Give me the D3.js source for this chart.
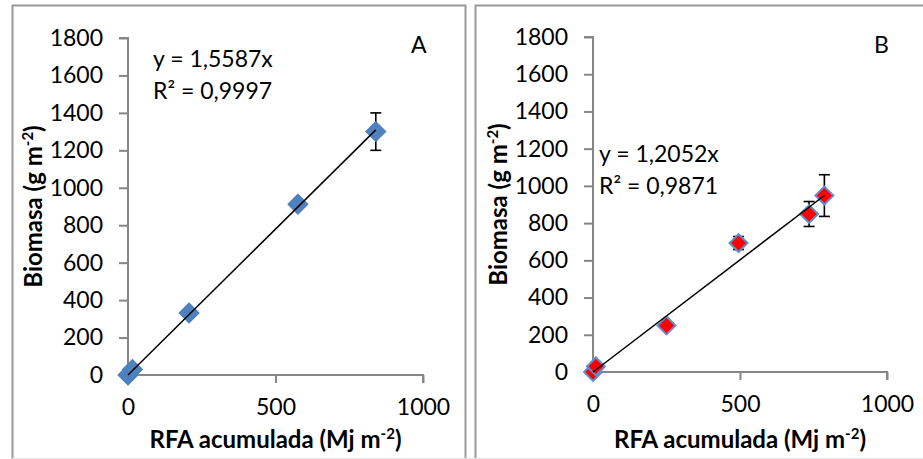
<!DOCTYPE html>
<html>
<head>
<meta charset="utf-8">
<script src="https://cdn.jsdelivr.net/npm/d3@7"></script>
<style>
  html, body { margin: 0; padding: 0; background: #fff; }
  svg { display: block; font-family: Lato, "Open Sans", sans-serif; }
</style>
</head>
<body>
<svg id="chart" width="923" height="459"></svg>
<script>
// Panel A: accumulated PAR vs biomass
const rfaA = [0, 15, 207, 576, 840];
const bioA = [0, 30, 331, 912, 1300];
const errA = [0, 0, 0, 0, 100];
const slopeA = 1.5587;
const r2A = 0.9997;

// Panel B
const rfaB = [0, 10, 250, 495, 735, 787];
const bioB = [0, 30, 250, 693, 849, 948];
const errB = [0, 0, 0, 35, 67, 112];
const slopeB = 1.2052;
const r2B = 0.9871;

const xTicks = [0, 500, 1000];
const yTicks = [0, 200, 400, 600, 800, 1000, 1200, 1400, 1600, 1800];

const svg = d3.select("#chart");
const axisGray = "#868686";
const fmt = (v, d) => v.toFixed(d).replace(".", ",");
const labelSize = "23px";
const titleSize = "24px";

// panel frames
svg.append("path")
  .attr("d", "M12.5,459 V5.5 H465.5 V459")
  .attr("fill", "none").attr("stroke", "#9a9a9a").attr("stroke-width", 2);
svg.append("path")
  .attr("d", "M475.5,459 V5.5 H923")
  .attr("fill", "none").attr("stroke", "#9a9a9a").attr("stroke-width", 2);
svg.append("line")
  .attr("x1", 12).attr("x2", 923).attr("y1", 458.5).attr("y2", 458.5)
  .attr("stroke", "#e4e4e4").attr("stroke-width", 1);

function panel(cfg) {
  const x = d3.scaleLinear().domain([0, 1000]).range(cfg.xr);
  const y = d3.scaleLinear().domain([0, 1800]).range(cfg.yr);
  const g = svg.append("g");

  // y axis
  const ya = g.append("g").attr("transform", `translate(${cfg.xr[0]},0)`)
    .call(d3.axisLeft(y).tickValues(yTicks).tickSize(9).tickPadding(16).tickFormat(d3.format("d")));
  // x axis
  const xa = g.append("g").attr("transform", `translate(0,${cfg.yr[0]})`)
    .call(d3.axisBottom(x).tickValues(xTicks).tickSize(8).tickPadding(16).tickFormat(d3.format("d")));
  [ya, xa].forEach(a => {
    a.select(".domain").attr("stroke", axisGray).attr("stroke-width", 2);
    a.selectAll(".tick line").attr("stroke", axisGray).attr("stroke-width", 2);
    a.selectAll(".tick text").attr("fill", "#000").style("font-size", labelSize).style("font-family", "Lato, sans-serif");
  });
  ya.select(".domain").attr("d", `M-9,${cfg.yr[1]}H0V${cfg.yr[0]}`);
  xa.select(".domain").attr("d", `M${cfg.xr[0]},0H${cfg.xr[1]}V8`);

  const pts = cfg.xs.map((v, i) => ({ x: v, y: cfg.ys[i], e: cfg.es[i] }));

  // error bars (behind the markers)
  const eb = g.selectAll("g.eb").data(pts.filter(d => d.e > 0)).join("g").attr("class", "eb")
    .attr("stroke", "#000").attr("stroke-width", 1.6);
  eb.append("line").attr("x1", d => x(d.x)).attr("x2", d => x(d.x))
    .attr("y1", d => y(d.y - d.e)).attr("y2", d => y(d.y + d.e));
  eb.append("line").attr("x1", d => x(d.x) - 5.5).attr("x2", d => x(d.x) + 5.5)
    .attr("y1", d => y(d.y + d.e)).attr("y2", d => y(d.y + d.e));
  eb.append("line").attr("x1", d => x(d.x) - 5.5).attr("x2", d => x(d.x) + 5.5)
    .attr("y1", d => y(d.y - d.e)).attr("y2", d => y(d.y - d.e));

  // markers
  const sym = d3.symbol(d3.symbolSquare, cfg.msize);
  g.selectAll("path.pt").data(pts).join("path")
    .attr("class", "pt")
    .attr("d", sym)
    .attr("transform", d => `translate(${x(d.x)},${y(d.y)}) rotate(45)`)
    .attr("fill", cfg.fill)
    .attr("stroke", cfg.stroke)
    .attr("stroke-width", cfg.sw);

  // linear trend through the origin
  const xmax = d3.max(cfg.xs);
  g.append("line")
    .attr("x1", x(0)).attr("y1", y(0))
    .attr("x2", x(xmax)).attr("y2", y(cfg.slope * xmax))
    .attr("stroke", "#000").attr("stroke-width", 1.5);

  // equation labels
  const eq = g.append("text").attr("x", cfg.eqPos[0]).attr("y", cfg.eqPos[1])
    .style("font-size", labelSize).attr("fill", "#000");
  eq.append("tspan").attr("x", cfg.eqPos[0]).text(`y = ${fmt(cfg.slope, 4)}x`);
  eq.append("tspan").attr("x", cfg.eqPos[0]).attr("dy", 32).text(`R² = ${fmt(cfg.r2, 4)}`);

  // panel letter
  g.append("text").attr("x", cfg.letterPos[0]).attr("y", cfg.letterPos[1])
    .style("font-size", labelSize).attr("fill", "#000").text(cfg.letter);

  // axis titles
  const xt = g.append("text")
    .attr("x", (cfg.xr[0] + cfg.xr[1]) / 2).attr("y", 448)
    .attr("text-anchor", "middle").style("font-size", titleSize).style("font-weight", "bold");
  xt.append("tspan").text("RFA acumulada (Mj m");
  xt.append("tspan").attr("dy", -9).style("font-size", "15px").text("-2");
  xt.append("tspan").attr("dy", 9).text(")");

  const yt = g.append("text")
    .attr("transform", `translate(${cfg.xr[0] - 86},${(cfg.yr[0] + cfg.yr[1]) / 2}) rotate(-90)`)
    .attr("text-anchor", "middle").style("font-size", titleSize).style("font-weight", "bold");
  yt.append("tspan").text("Biomasa (g m");
  yt.append("tspan").attr("dy", -9).style("font-size", "15px").text("-2");
  yt.append("tspan").attr("dy", 9).text(")");
}

panel({
  xr: [128, 423], yr: [375, 38],
  xs: rfaA, ys: bioA, es: errA, slope: slopeA, r2: r2A,
  fill: "#4f81bd", stroke: "#4a7ebb", sw: 1, msize: 200,
  eqPos: [153, 67], letterPos: [411, 53], letter: "A"
});

panel({
  xr: [593, 887], yr: [372, 37],
  xs: rfaB, ys: bioB, es: errB, slope: slopeB, r2: r2B,
  fill: "#ff0000", stroke: "#5b8fd0", sw: 2, msize: 160,
  eqPos: [599, 162], letterPos: [874, 53], letter: "B"
});
</script>
</body>
</html>
